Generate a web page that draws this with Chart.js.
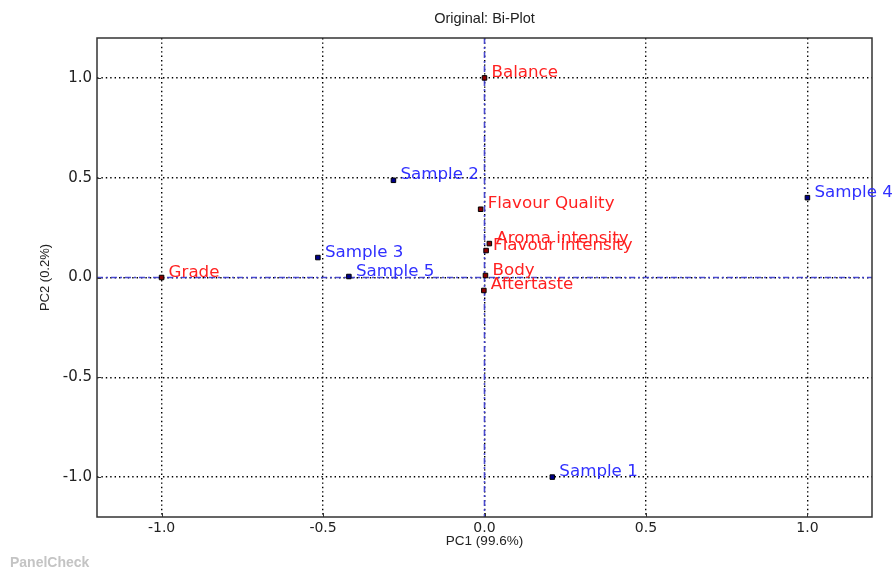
<!DOCTYPE html>
<html>
<head>
<meta charset="utf-8">
<script src="https://cdn.jsdelivr.net/npm/chart.js@4.4.0/dist/chart.umd.min.js"></script>
<style>
  html, body { margin: 0; padding: 0; background: #fff; }
  canvas { display: block; }
</style>
</head>
<body>
<canvas id="chart" width="893" height="569"></canvas>
<script>
// Bi-plot: variable loadings (red) and sample scores (blue) on PC1 / PC2

const varNames = ['Balance', 'Flavour Quality', 'Aroma intensity', 'Flavour intensity', 'Body', 'Aftertaste', 'Grade'];
const varPC1 = [0.0, -0.012, 0.015, 0.005, 0.003, -0.002, -1.0];
const varPC2 = [1.0, 0.342, 0.170, 0.135, 0.010, -0.065, 0.0];

const sampleNames = ['Sample 1', 'Sample 2', 'Sample 3', 'Sample 4', 'Sample 5'];
const samplePC1 = [0.21, -0.282, -0.516, 1.0, -0.42];
const samplePC2 = [-1.0, 0.487, 0.100, 0.40, 0.005];

const tickValues = [-1.0, -0.5, 0.0, 0.5, 1.0];

const varColor = '#ff2020';
const sampleColor = '#3030ff';

const ctx = document.getElementById('chart').getContext('2d');

const chart = new Chart(ctx, {
    type: 'scatter',
    data: {
        datasets: [
            {
                label: 'Variables',
                data: varPC1.map((x, i) => ({ x: x, y: varPC2[i] })),
                pointStyle: 'rect',
                pointRadius: 3.2,
                backgroundColor: '#8b0000',
                borderColor: '#000',
                borderWidth: 1,
                names: varNames,
                textColor: varColor
            },
            {
                label: 'Samples',
                data: samplePC1.map((x, i) => ({ x: x, y: samplePC2[i] })),
                pointStyle: 'rect',
                pointRadius: 3.2,
                backgroundColor: '#00008b',
                borderColor: '#000',
                borderWidth: 1,
                names: sampleNames,
                textColor: sampleColor
            }
        ]
    },
    options: {
        responsive: false,
        animation: false,
        events: [],
        layout: { padding: { top: 38, right: 21, left: 0, bottom: 0 } },
        plugins: {
            legend: { display: false },
            tooltip: { enabled: false }
        },
        scales: {
            x: {
                type: 'linear',
                min: -1.2,
                max: 1.2,
                afterFit: function (s) { s.height = 52; },
                afterBuildTicks: function (s) { s.ticks = tickValues.map(v => ({ value: v })); },
                ticks: {
                    callback: v => v.toFixed(1),
                    font: { family: 'DejaVu Sans', size: 14 },
                    color: '#222',
                    padding: 3,
                    maxRotation: 0
                },
                grid: { color: '#000', lineWidth: 1.4, drawTicks: false },
                border: { display: false, dash: [1.4, 3] }
            },
            y: {
                type: 'linear',
                min: -1.2,
                max: 1.2,
                afterFit: function (s) { s.width = 97; },
                afterBuildTicks: function (s) { s.ticks = tickValues.map(v => ({ value: v })); },
                ticks: {
                    callback: v => v.toFixed(1),
                    font: { family: 'DejaVu Sans', size: 15 },
                    color: '#222',
                    padding: 5
                },
                grid: { color: '#000', lineWidth: 1.4, drawTicks: false },
                border: { display: false, dash: [1.4, 3] }
            }
        }
    },
    plugins: [{
        id: 'biplotDecor',
        beforeDatasetsDraw: function (chart) {
            const c = chart.ctx;
            const xs = chart.scales.x;
            const ys = chart.scales.y;
            const a = chart.chartArea;
            // zero axes, dash-dot blue
            c.save();
            c.strokeStyle = 'rgba(60, 60, 210, 0.9)';
            c.lineWidth = 1.6;
            c.setLineDash([6, 3, 2, 3]);
            c.beginPath();
            c.moveTo(a.left, ys.getPixelForValue(0));
            c.lineTo(a.right, ys.getPixelForValue(0));
            c.moveTo(xs.getPixelForValue(0), a.top);
            c.lineTo(xs.getPixelForValue(0), a.bottom);
            c.stroke();
            c.restore();
        },
        afterDraw: function (chart) {
            const c = chart.ctx;
            const xs = chart.scales.x;
            const ys = chart.scales.y;
            const a = chart.chartArea;

            // frame
            c.save();
            c.strokeStyle = '#333';
            c.lineWidth = 1.5;
            c.strokeRect(a.left, a.top, a.right - a.left, a.bottom - a.top);

            // inward tick marks on bottom and left
            c.lineWidth = 1;
            c.beginPath();
            tickValues.forEach(v => {
                const px = Math.round(xs.getPixelForValue(v)) + 0.5;
                c.moveTo(px, a.bottom);
                c.lineTo(px, a.bottom - 4);
                const py = Math.round(ys.getPixelForValue(v)) + 0.5;
                c.moveTo(a.left, py);
                c.lineTo(a.left + 4, py);
            });
            c.stroke();
            c.restore();

            // point labels
            c.save();
            c.font = '16.7px "DejaVu Sans"';
            c.textAlign = 'left';
            c.textBaseline = 'alphabetic';
            chart.data.datasets.forEach(ds => {
                c.fillStyle = ds.textColor;
                ds.data.forEach((p, i) => {
                    const px = xs.getPixelForValue(p.x);
                    const py = ys.getPixelForValue(p.y);
                    c.fillText(ds.names[i], px + 7, py - 1);
                });
            });
            c.restore();

            // title and axis titles
            c.save();
            c.fillStyle = '#222';
            c.textAlign = 'center';
            c.textBaseline = 'middle';
            c.font = '14.5px "Liberation Sans", Arial, sans-serif';
            c.fillText('Original: Bi-Plot', (a.left + a.right) / 2, 19);
            c.font = '13.5px "Liberation Sans", Arial, sans-serif';
            c.fillText('PC1 (99.6%)', (a.left + a.right) / 2, 541);
            c.translate(45, (a.top + a.bottom) / 2);
            c.rotate(-Math.PI / 2);
            c.font = '13px "Liberation Sans", Arial, sans-serif';
            c.fillText('PC2 (0.2%)', 0, 0);
            c.restore();

            // watermark
            c.save();
            c.fillStyle = '#c4c4c4';
            c.font = 'bold 14px "Liberation Sans", Arial, sans-serif';
            c.textAlign = 'left';
            c.textBaseline = 'middle';
            c.fillText('PanelCheck', 10, 563);
            c.restore();
        }
    }]
});
</script>
</body>
</html>
